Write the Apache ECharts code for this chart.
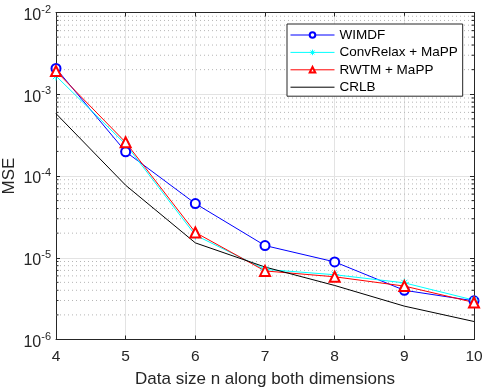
<!DOCTYPE html>
<html><head><meta charset="utf-8">
<script src="https://cdn.jsdelivr.net/npm/echarts@6/dist/echarts.min.js"></script>
<style>html,body{margin:0;padding:0;background:#fff}#c{width:485px;height:387px}</style>
</head><body><div id="c"></div>
<script>
const nValues = [4, 5, 6, 7, 8, 9, 10];
const wimdf = [2.07e-3, 1.98e-4, 4.6e-5, 1.41e-5, 8.9e-6, 4.0e-6, 2.97e-6];
const convRelax = [1.67e-3, 2.44e-4, 1.89e-5, 7.2e-6, 6.2e-6, 4.93e-6, 3.03e-6];
const rwtm = [1.92e-3, 2.58e-4, 2.04e-5, 6.9e-6, 5.85e-6, 4.5e-6, 2.84e-6];
const crlb = [5.8e-4, 7.7e-5, 1.52e-5, 7.7e-6, 4.58e-6, 2.56e-6, 1.66e-6];
const seriesNames = ['WIMDF', 'ConvRelax + MaPP', 'RWTM + MaPP', 'CRLB'];
const decades = [-6, -5, -4, -3, -2];
const minorMultipliers = [2, 3, 4, 5, 6, 7, 8, 9];

const minorValues = [];
decades.slice(0, -1).forEach(d => minorMultipliers.forEach(m => minorValues.push(m * Math.pow(10, d))));

const pair = arr => arr.map((v, i) => [nValues[i], v]);
const font = 'Liberation Sans, Arial, Helvetica, sans-serif';
const axisColor = '#262626';
const asterisk = 'path://M5,0L5,10M0,5L10,5M1.5,1.5L8.5,8.5M8.5,1.5L1.5,8.5';

const chart = echarts.init(document.getElementById('c'), null, {renderer: 'canvas'});
chart.setOption({
  animation: false,
  backgroundColor: '#fff',
  textStyle: {fontFamily: font},
  grid: {left: 56, right: 11, top: 12.5, bottom: 47.5, containLabel: false, outerBoundsMode: 'none'},
  legend: {
    orient: 'vertical', left: 287, top: 24,
    data: [
      seriesNames[0],
      {name: seriesNames[1], itemStyle: {color: 'rgba(0,0,0,0)', borderColor: '#00ffff', borderWidth: 1}},
      seriesNames[2],
      {name: seriesNames[3], itemStyle: {color: 'rgba(0,0,0,0)', borderColor: 'rgba(0,0,0,0)', borderWidth: 0}}
    ],
    backgroundColor: '#fff', borderColor: axisColor, borderWidth: 1,
    padding: [4, 5, 2, 3], itemGap: 3.4, itemWidth: 44, itemHeight: 7,
    lineStyle: {width: 1},
    textStyle: {fontFamily: font, fontSize: 13.5, lineHeight: 14, color: '#000'}
  },
  xAxis: [{
    type: 'value', min: 4, max: 10, interval: 1,
    name: 'Data size n along both dimensions', nameLocation: 'middle', nameGap: 31,
    nameMoveOverlap: false,
    nameTextStyle: {fontFamily: font, fontSize: 17, color: axisColor},
    axisLine: {lineStyle: {color: axisColor, width: 1}},
    axisTick: {inside: true, length: 4, lineStyle: {color: axisColor}},
    axisLabel: {fontFamily: font, fontSize: 15.5, color: axisColor, margin: 9},
    splitLine: {show: true, lineStyle: {color: '#e3e3e3', width: 1}}
  }, {
    type: 'value', min: 4, max: 10, interval: 1, position: 'top',
    axisLine: {show: true, lineStyle: {color: axisColor}},
    axisTick: {show: true, inside: true, length: 4, lineStyle: {color: axisColor}},
    axisLabel: {show: false}, splitLine: {show: false}
  }],
  yAxis: [{
    type: 'log', logBase: 10, min: 1e-6, max: 1e-2,
    name: 'MSE', nameLocation: 'middle', nameGap: 38, nameRotate: 90,
    nameMoveOverlap: false,
    nameTextStyle: {fontFamily: font, fontSize: 17, color: axisColor},
    axisLine: {show: true, lineStyle: {color: axisColor, width: 1}},
    axisTick: {show: true, inside: true, length: 4, lineStyle: {color: axisColor}},
    axisLabel: {
      margin: 5, color: axisColor,
      formatter: v => '{b|10}{s|' + Math.round(Math.log10(v)) + '}',
      rich: {
        b: {fontFamily: font, fontSize: 16, color: axisColor, padding: [6, 0, 0, 0]},
        s: {fontFamily: font, fontSize: 11, color: axisColor, padding: [0, 0, 6, 0]}
      }
    },
    splitLine: {show: true, lineStyle: {color: '#e3e3e3', width: 1}}
  }, {
    type: 'log', logBase: 10, min: 1e-6, max: 1e-2, position: 'right',
    axisLine: {show: true, lineStyle: {color: axisColor}},
    axisTick: {show: true, inside: true, length: 4, lineStyle: {color: axisColor}},
    axisLabel: {show: false}, splitLine: {show: false}
  }],
  series: [
    {
      name: 'minorgrid', type: 'custom', silent: true, z: 1,
      data: minorValues.map(v => [v]),
      encode: {y: 0},
      renderItem: (params, api) => {
        const v = api.value(0);
        const a = api.coord([4, v]);
        const b = api.coord([10, v]);
        return {
          type: 'group',
          children: [
            {type: 'line', shape: {x1: a[0], y1: a[1], x2: b[0], y2: b[1]},
             style: {stroke: '#b5b5b5', lineWidth: 1, lineDash: [1, 3]}},
            {type: 'line', shape: {x1: a[0], y1: a[1], x2: a[0] + 2.5, y2: a[1]},
             style: {stroke: axisColor, lineWidth: 1}},
            {type: 'line', shape: {x1: b[0] - 2.5, y1: b[1], x2: b[0], y2: b[1]},
             style: {stroke: axisColor, lineWidth: 1}}
          ]
        };
      }
    },
    {
      name: seriesNames[0], type: 'line', data: pair(wimdf), z: 3,
      symbol: 'emptyCircle', symbolSize: 9,
      lineStyle: {color: '#0000ff', width: 1},
      itemStyle: {color: '#0000ff', borderColor: '#0000ff', borderWidth: 1}
    },
    {
      name: seriesNames[1], type: 'line', data: pair(convRelax), z: 3,
      symbol: asterisk, symbolSize: 9,
      lineStyle: {color: '#00ffff', width: 1},
      itemStyle: {color: 'rgba(0,0,0,0)', borderColor: '#00ffff', borderWidth: 1}
    },
    {
      name: seriesNames[2], type: 'line', data: pair(rwtm), z: 3,
      symbol: 'emptyTriangle', symbolSize: 10,
      lineStyle: {color: '#ff0000', width: 1},
      itemStyle: {color: '#ff0000', borderColor: '#ff0000', borderWidth: 1}
    },
    {
      name: seriesNames[3], type: 'line', data: pair(crlb), z: 3,
      symbol: 'none',
      lineStyle: {color: '#000000', width: 1},
      itemStyle: {color: '#000000'}
    }
  ]
});
</script>
</body></html>
